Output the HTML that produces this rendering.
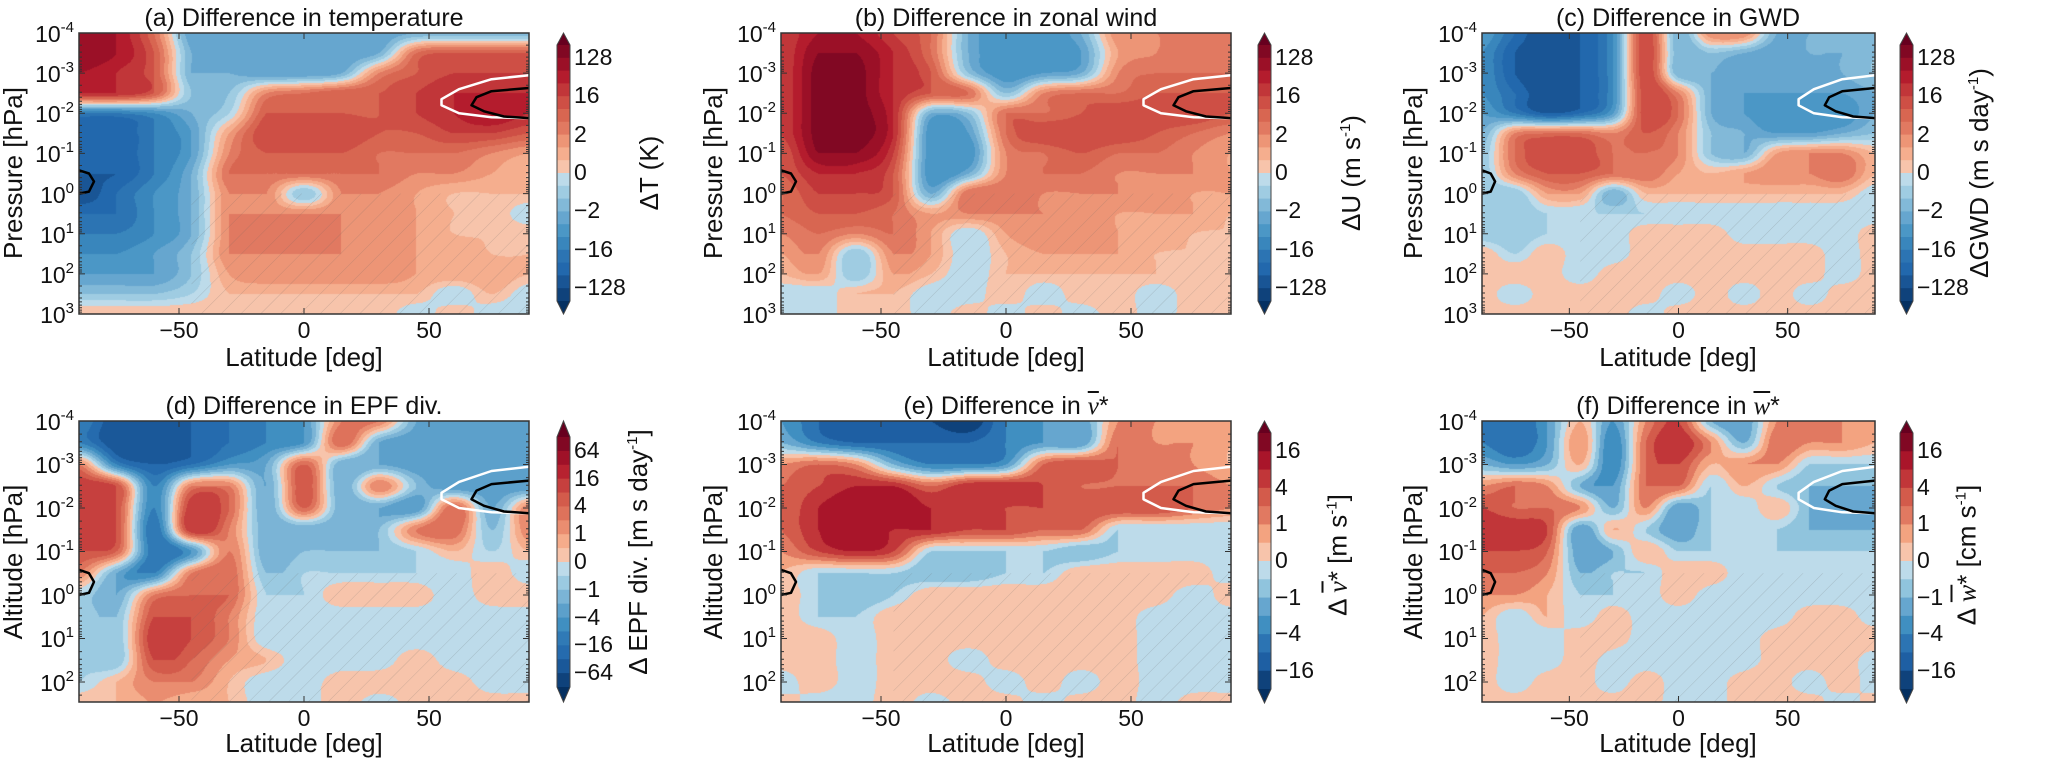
<!DOCTYPE html>
<html><head><meta charset="utf-8">
<style>
body{margin:0;background:#fff;}
#fig{position:relative;width:2065px;height:758px;overflow:hidden;background:#fff;font-family:"Liberation Sans","DejaVu Sans",sans-serif;color:#111;}
.t{position:absolute;white-space:nowrap;line-height:1;}
.title{font-size:25px;transform:translateX(-50%);}
.axl{font-size:26px;transform:translate(-50%,-50%);}
.vl{font-size:26px;transform:translate(-50%,-50%) rotate(-90deg);}
.tick{font-size:23px;}
sup{font-size:15px;vertical-align:0;position:relative;top:-10px;}
.m{font-family:"Liberation Serif","DejaVu Serif",serif;font-style:italic;text-decoration:overline;}
canvas,svg{position:absolute;}
</style></head>
<body>
<div id="fig">
  <div class="t title" style="left:304px;top:6px">(a) Difference in temperature</div>
  <div class="t title" style="left:1006px;top:6px">(b) Difference in zonal wind</div>
  <div class="t title" style="left:1678px;top:6px">(c) Difference in GWD</div>
  <div class="t title" style="left:304px;top:394px">(d) Difference in EPF div.</div>
  <div class="t title" style="left:1006px;top:394px">(e) Difference in <span class="m">v</span>*</div>
  <div class="t title" style="left:1678px;top:394px">(f) Difference in <span class="m">w</span>*</div>

  <div class="t axl" style="left:304px;top:357px">Latitude [deg]</div>
  <div class="t axl" style="left:1006px;top:357px">Latitude [deg]</div>
  <div class="t axl" style="left:1678px;top:357px">Latitude [deg]</div>
  <div class="t axl" style="left:304px;top:743px">Latitude [deg]</div>
  <div class="t axl" style="left:1006px;top:743px">Latitude [deg]</div>
  <div class="t axl" style="left:1678px;top:743px">Latitude [deg]</div>

  <div class="t vl" style="left:13px;top:173px">Pressure [hPa]</div>
  <div class="t vl" style="left:713px;top:173px">Pressure [hPa]</div>
  <div class="t vl" style="left:1413px;top:173px">Pressure [hPa]</div>
  <div class="t vl" style="left:13px;top:562px">Altitude [hPa]</div>
  <div class="t vl" style="left:713px;top:562px">Altitude [hPa]</div>
  <div class="t vl" style="left:1413px;top:562px">Altitude [hPa]</div>

  <div class="t vl" style="left:649px;top:173px">ΔT (K)</div>
  <div class="t vl" style="left:1351px;top:173px">ΔU (m s<sup>-1</sup>)</div>
  <div class="t vl" style="left:1979px;top:173px">ΔGWD (m s day<sup>-1</sup>)</div>
  <div class="t vl" style="left:638px;top:552px">Δ EPF div. [m s day<sup>-1</sup>]</div>
  <div class="t vl" style="left:1338px;top:555px">Δ <span class="m">v</span>* [m s<sup>-1</sup>]</div>
  <div class="t vl" style="left:1967px;top:555px">Δ <span class="m">w</span>* [cm s<sup>-1</sup>]</div>
</div>
<script>
// grid nodes
const latNodes=[-90,-75,-60,-45,-30,-15,0,15,30,45,60,75,90];
const logpNodes=[-4,-3.5,-3,-2.5,-2,-1.5,-1,-0.5,0,0.5,1,1.5,2,2.5,3];
const latTicks=[-50,0,50];
const latTickLabels=['\u221250','0','50'];
const cbTicksTop=['128','16','2','0','\u22122','\u221216','\u2212128'];
const cbTicksD=['64','16','4','1','0','\u22121','\u22124','\u221216','\u221264'];
const cbTicksEF=['16','4','1','0','\u22121','\u22124','\u221216'];
// values in colour-level units (signed contour level index)
const tempDiff=[
[9,8,4,-4,-4,-4,-4,-4,-4,-3,-3,-3,-3],
[9,8,5,-3,-4,-4,-4,-4,-3,4,5,5,5],
[8,7,5,-3,-3,-4,-4,-3,3,5,6,6,6],
[7,7,5,-2,-2,3,4,5,5,6,7,7,7],
[-6,-6,-5,-3,-1,5,5,5,5,6,7,8,7],
[-8,-8,-6,-4,2,6,6,6,5,5,6,6,5],
[-8,-8,-6,-4,3,5,5,5,4,4,4,3,2],
[-8,-8,-6,-3,4,4,4,4,4,3,3,2,1],
[-9,-7,-5,-3,3,3,-2,3,3,2,1,1,1],
[-7,-7,-5,-3,3,3,3,3,3,2,1,1,-1],
[-6,-6,-5,-3,3,4,4,3,3,2,1,1,1],
[-5,-5,-4,-2,3,3,3,3,3,2,2,1,1],
[-4,-4,-4,-2,2,3,3,3,3,2,2,2,1],
[-2,-2,-2,-1,1,1,1,1,1,1,-1,1,-1],
[1,1,1,1,1,1,1,1,1,-1,1,-1,-1]];
const windDiff=[
[6,8,8,6,4,-3,-5,-5,-3,3,3,3,3],
[6,9,9,7,4,-3,-5,-5,-4,2,3,4,4],
[6,9.5,9.5,7,5,-2,-5,-4,-3,3,4,4,4],
[6,9.5,9.5,7,5,4,-2,3,4,4,5,5,5],
[6,9.5,9.5,7,-3,-2,4,4,5,6,6,6,5],
[6,9.5,9.5,7,-5,-4,4,6,6,6,5,4,3],
[5,9,9,6,-5,-5,3,4,5,4,4,3,2],
[5,7,7,5,-5,-3,3,4,4,3,3,3,2],
[4,6,6,5,-3,4,4,3,3,3,3,2,2],
[4,5,5,4,2,3,3,3,3,2,2,2,1],
[3,4,3,4,2,-1,2,3,3,2,2,1,1],
[2,3,-2,3,2,-1,1,2,2,2,1,1,1],
[1,2,-2,2,1,-1,1,1,1,1,1,1,1],
[-1,-1,1,1,-1,-1,1,-1,1,1,-1,1,1],
[-1,-1,1,1,-1,1,-1,1,-1,1,-1,1,1]];
const gwdDiff=[
[-4,-7,-9,-8,-5,6,-3,3,3,-3,-3,-3,-2],
[-5,-8,-9,-8,-5,6,-3,-2,-3,-4,-3,-3,-2],
[-5,-8,-9,-8,-5,6,-3,-3,-4,-4,-4,-3,-2],
[-5,-7,-9,-8,-5,6,3,-3,-4,-4,-4,-4,-3],
[-4,-6,-8,-7,-4,6,4,-3,-4,-5,-5,-5,-3],
[-3,3,4,4,3,5,3,-2,-3,-4,-4,-3,-2],
[-2,4,6,6,4,4,3,-2,-3,2,3,3,1],
[-2,3,5,5,4,4,2,1,2,3,3,4,1],
[-2,-2,2,2,-3,1,1,1,1,1,1,1,-1],
[-2,-2,-1,-1,-1,-1,-1,-1,-1,-1,-1,-1,-1],
[-2,-2,-1,-1,-1,1,1,1,-1,-1,-1,-1,1],
[1,-1,1,-1,-1,1,1,1,1,1,1,-1,1],
[1,1,1,-1,1,1,1,1,1,1,1,-1,1],
[1,-1,1,1,1,1,-1,1,-1,1,-1,1,1],
[1,1,1,1,1,-1,1,1,1,1,1,1,1]];
const epfDiff=[
[-5,-8,-8,-7,-6,-5,-4,3,3,-3,-4,-4,-3],
[-5,-8,-8,-7,-6,-5,-4,4,-3,-4,-4,-4,-4],
[3,-5,-7,-6,-4,-3,4,-3,-3,-4,-4,-4,-3],
[6,5,-5,3,3,-3,5,-3,3,-2,-4,-4,-4],
[6,5,-5,6,4,-3,4,-3,-3,-4,4,-3,3],
[6,5,-6,6,3,-3,-3,-3,-2,3,4,-2,3],
[5,4,-6,-4,3,-3,-2,-2,-2,-1,1,-1,1],
[3,-3,-5,3,4,-2,-1,-1,-1,-1,-1,1,-1],
[-1,-3,3,4,4,-1,-1,1,1,1,-1,1,1],
[-1,-2,5,5,3,-1,-1,-1,-1,-1,-1,-1,-1],
[-1,-2,6,5,3,-1,-1,-1,-1,-1,-1,-1,-1],
[-1,-2,5,4,2,1,-1,-1,-1,1,-1,-1,-1],
[-1,1,3,3,1,-1,-1,1,1,1,1,-1,-1],
[1,1,2,1,1,-1,-1,1,-1,1,1,1,1],
[1,1,2,1,1,-1,-1,1,-1,1,1,1,1]];
const vstarDiff=[
[-3,-5,-6,-6,-6,-7,-4,-3,-3,2,2,2,1],
[-2,-4,-5,-5,-5,-5,-4,-3,-3,3,2,2,1],
[2,3,2,-2,-4,-4,-3,3,4,3,3,2,1],
[3,4,5,5,3,5,5,4,3,3,3,3,2],
[3,5,6,6,5,5,4,4,4,4,4,3,2],
[3,5,6,5,5,4,4,3,3,-1,-1,-1,-1],
[2,4,5,4,-1,-1,-1,-1,-2,-1,-1,-1,-1],
[1,-1,-1,-1,-2,-2,-1,-1,1,1,1,1,-1],
[1,-1,-2,-1,1,1,1,1,1,1,1,-1,1],
[1,-1,-1,1,1,1,1,1,1,1,-1,-1,-1],
[1,1,-1,1,1,1,1,1,1,1,-1,-1,-1],
[1,1,-1,1,1,-1,1,1,1,1,-1,-1,-1],
[-1,1,-1,1,1,1,-1,1,-1,1,-1,-1,-1],
[1,-1,-1,1,-1,1,1,-1,1,1,-1,1,1],
[1,-1,-1,1,-1,1,1,-1,1,1,-1,1,1]];
const wstarDiff=[
[-4,-5,-3,1,-3,2,4,-2,-3,2,3,2,1],
[-4,-5,-3,2,-4,3,5,2,-2,3,2,2,1],
[-2,-3,-2,1,-4,3,4,1,2,2,-1,-1,-1],
[2,3,2,-2,-3,3,3,-1,1,-1,-2,-2,-2],
[4,3,3,2,-2,2,-3,-1,-1,1,-2,-3,-3],
[5,5,4,-3,1,-1,-3,-1,-1,-1,-2,-2,-2],
[4,4,3,-3,-2,1,-1,-1,-1,-1,-1,-1,-1],
[3,3,2,-2,-1,-1,1,1,-1,-1,-1,-1,-1],
[2,2,1,-1,-1,-1,1,-1,-1,-1,-1,-1,-1],
[1,-1,1,-1,1,-1,-1,-1,-1,-1,1,1,-1],
[1,-1,-1,1,1,-1,-1,-1,-1,1,1,1,1],
[1,-1,-1,1,-1,-1,-1,-1,-1,1,1,1,-1],
[1,-1,1,1,-1,1,-1,-1,1,1,-1,1,-1],
[1,1,1,1,1,1,-1,-1,1,1,1,-1,1],
[1,1,1,1,1,1,-1,-1,1,1,1,-1,1]];
// overlay contours (lat, log10 p)
const whiteLat=[90,75,62,55,55,62,75,90];
const whiteLogp=[-2.95,-2.85,-2.6,-2.35,-2.2,-2.0,-1.9,-1.88];
const blackLat=[90,75,69,67,72,80,90];
const blackLogp=[-2.63,-2.55,-2.4,-2.2,-2.05,-1.92,-1.88];
const leftLat=[-90,-86,-84,-86,-90];
const leftLogp=[-0.58,-0.5,-0.3,-0.05,0.0];

const posAnch=['#f7c4ab','#f4a582','#e27c63','#d6604d','#c53e3d','#b2182b','#8c0b25','#67001f'];
const negAnch=['#bddbea','#92c5de','#6aa8d0','#4393c3','#2f78b5','#2166ac','#134a86','#053061'];
function hex(h){return [parseInt(h.substr(1,2),16),parseInt(h.substr(3,2),16),parseInt(h.substr(5,2),16)];}
function interp(anch,t){const f=t*(anch.length-1);const i=Math.min(anch.length-2,Math.floor(f));const r=f-i;const a=hex(anch[i]),b=hex(anch[i+1]);return [0,1,2].map(k=>Math.round(a[k]+(b[k]-a[k])*r));}
function palette(N){const p=[],n=[];for(let k=1;k<=N;k++){const t=(k-1)/(N-1)*0.9;p.push(interp(posAnch,t));n.push(interp(negAnch,t));}return {p,n,top:hex('#67001f'),bot:hex('#053061')};}

const fig=document.getElementById('fig');
const NS='http://www.w3.org/2000/svg';
const panels=[
 {k:'a',d:tempDiff,x:79,y:33,w:450,h:281,pmax:3,N:10,cbx:557,cbt:33,cbm0:45,cbm1:301,cbb:314,lab:cbTicksTop,step:3},
 {k:'b',d:windDiff,x:781,y:33,w:450,h:281,pmax:3,N:10,cbx:1258,cbt:33,cbm0:45,cbm1:301,cbb:314,lab:cbTicksTop,step:3},
 {k:'c',d:gwdDiff,x:1482,y:33,w:393,h:281,pmax:3,N:10,cbx:1900,cbt:33,cbm0:45,cbm1:301,cbb:314,lab:cbTicksTop,step:3},
 {k:'d',d:epfDiff,x:79,y:421,w:450,h:281,pmax:2.46,N:9,cbx:557,cbt:421,cbm0:437,cbm1:687,cbb:702,lab:cbTicksD,step:2},
 {k:'e',d:vstarDiff,x:781,y:421,w:450,h:281,pmax:2.46,N:7,cbx:1258,cbt:421,cbm0:433,cbm1:689,cbb:703,lab:cbTicksEF,step:2},
 {k:'f',d:wstarDiff,x:1482,y:421,w:393,h:281,pmax:2.46,N:7,cbx:1900,cbt:421,cbm0:433,cbm1:689,cbb:703,lab:cbTicksEF,step:2}
];
function cr(p0,p1,p2,p3,t){return 0.5*((2*p1)+(-p0+p2)*t+(2*p0-5*p1+4*p2-p3)*t*t+(-p0+3*p1-3*p2+p3)*t*t*t);}
function g(d,j,i){j=Math.max(0,Math.min(14,j));i=Math.max(0,Math.min(12,i));return d[j][i];}
function val(d,lat,lp){
 let fi=(lat+90)/15, fj=(lp+4)/0.5;
 fi=Math.max(0,Math.min(12-1e-6,fi)); fj=Math.max(0,Math.min(14-1e-6,fj));
 const i=Math.floor(fi),j=Math.floor(fj),a=fi-i,b=fj-j;
 const r=[];
 for(let jj=-1;jj<=2;jj++){r.push(cr(g(d,j+jj,i-1),g(d,j+jj,i),g(d,j+jj,i+1),g(d,j+jj,i+2),a));}
 let v=cr(r[0],r[1],r[2],r[3],b);
 const c=[d[j][i],d[j][i+1],d[j+1][i],d[j+1][i+1]];
 const lo=Math.min(...c),hi=Math.max(...c);
 return Math.max(lo,Math.min(hi,v));
}
function txt(cls,html,l,t,style){const e=document.createElement('div');e.className='t '+cls;e.innerHTML=html;e.style.left=l+'px';e.style.top=t+'px';if(style)e.style.cssText+=style;fig.appendChild(e);return e;}

panels.forEach(P=>{
 const pal=palette(P.N);
 const ppd=P.h/(P.pmax+4);
 const X=lat=>P.x+(lat+90)/180*P.w;
 const Y=lp=>P.y+(lp+4)*ppd;
 const cv=document.createElement('canvas');
 
 
 cv.width=P.w;cv.height=P.h;cv.style.left=P.x+'px';cv.style.top=P.y+'px';
 const ctx=cv.getContext('2d');const im=ctx.createImageData(P.w,P.h);
 for(let j=0;j<P.h;j++){const lp=-4+(j+0.5)/ppd;for(let i=0;i<P.w;i++){const lat=-90+180*(i+0.5)/P.w;const v=val(P.d,lat,lp);
  let c; if(v>0){const b=Math.ceil(v);c=b>P.N?pal.top:pal.p[b-1];}else{const b=Math.ceil(-v)||1;c=b>P.N?pal.bot:pal.n[b-1];}
  const o=(j*P.w+i)*4;im.data[o]=c[0];im.data[o+1]=c[1];im.data[o+2]=c[2];im.data[o+3]=255;}}
 ctx.putImageData(im,0,0);fig.appendChild(cv);
 const sv=document.createElementNS(NS,'svg');
 
 
 sv.setAttribute('width',2065);sv.setAttribute('height',758);sv.style.left='0px';sv.style.top='0px';
 const defs=document.createElementNS(NS,'defs');
 defs.innerHTML='<pattern id="h'+P.k+'" width="14" height="14" patternUnits="userSpaceOnUse" patternTransform="rotate(45)"><line x1="0" y1="0" x2="0" y2="14" stroke="#666" stroke-width="0.6" opacity="0.45"/></pattern><clipPath id="cp'+P.k+'"><rect x="'+P.x+'" y="'+P.y+'" width="'+P.w+'" height="'+P.h+'"/></clipPath>';
 sv.appendChild(defs);
 const hr=document.createElementNS(NS,'rect');
 
 
 const hy=Y(P.k==='a'||P.k==='b'||P.k==='c'?0:-0.5);
 hr.setAttribute('x',X(-45));hr.setAttribute('y',hy);hr.setAttribute('width',X(90)-X(-45));hr.setAttribute('height',P.y+P.h-hy);hr.setAttribute('fill','url(#h'+P.k+')');
 sv.appendChild(hr);
 function line(lats,lps,col,name){const p=document.createElementNS(NS,'path');
  
  
  let d='';lats.forEach((la,i)=>{d+=(i?'L':'M')+X(la).toFixed(1)+','+Y(lps[i]).toFixed(1);});
  p.setAttribute('d',d);p.setAttribute('fill','none');p.setAttribute('stroke',col);p.setAttribute('stroke-width','2.5');p.setAttribute('stroke-linejoin','round');p.setAttribute('clip-path','url(#cp'+P.k+')');sv.appendChild(p);}
 line(whiteLat,whiteLogp,'#fff','white-contour-'+P.k);
 line(blackLat,blackLogp,'#000','black-contour-'+P.k);
 line(leftLat,leftLogp,'#000','black-contour-left-'+P.k);
 const fr=document.createElementNS(NS,'rect');
 
 
 fr.setAttribute('x',P.x);fr.setAttribute('y',P.y);fr.setAttribute('width',P.w);fr.setAttribute('height',P.h);fr.setAttribute('fill','none');fr.setAttribute('stroke','#333');fr.setAttribute('stroke-width','1.5');sv.appendChild(fr);
 let tk='';
 latTicks.forEach(l=>{const x=X(l);tk+='M'+x+','+(P.y+P.h)+'v-6M'+x+','+P.y+'v6';});
 for(let e=-4;e<=Math.floor(P.pmax);e++){const y=Y(e);tk+='M'+P.x+','+y+'h6M'+(P.x+P.w)+','+y+'h-6';
  for(let m=2;m<10;m++){const ym=Y(e+Math.log10(m));if(ym<P.y+P.h)tk+='M'+P.x+','+ym+'h3M'+(P.x+P.w)+','+ym+'h-3';}}
 const tp=document.createElementNS(NS,'path');
 
 
 tp.setAttribute('d',tk);tp.setAttribute('stroke','#333');tp.setAttribute('stroke-width','1');sv.appendChild(tp);
 const nb=2*P.N,bh=(P.cbm1-P.cbm0)/nb,cw=13;
 for(let b=0;b<nb;b++){const r=document.createElementNS(NS,'rect');
  
  
  const c=b<P.N?pal.p[P.N-1-b]:pal.n[b-P.N];
  r.setAttribute('x',P.cbx);r.setAttribute('y',P.cbm0+b*bh);r.setAttribute('width',cw);r.setAttribute('height',bh+0.6);r.setAttribute('fill','rgb('+c.join(',')+')');sv.appendChild(r);}
 const t1=document.createElementNS(NS,'path');
 
 
 t1.setAttribute('d','M'+P.cbx+','+P.cbm0+'L'+(P.cbx+cw/2)+','+P.cbt+'L'+(P.cbx+cw)+','+P.cbm0+'Z');t1.setAttribute('fill','#67001f');sv.appendChild(t1);
 const t2=document.createElementNS(NS,'path');
 
 
 t2.setAttribute('d','M'+P.cbx+','+P.cbm1+'L'+(P.cbx+cw/2)+','+P.cbb+'L'+(P.cbx+cw)+','+P.cbm1+'Z');t2.setAttribute('fill','#053061');sv.appendChild(t2);
 const cf=document.createElementNS(NS,'path');
 
 
 cf.setAttribute('d','M'+P.cbx+','+P.cbm0+'L'+(P.cbx+cw/2)+','+P.cbt+'L'+(P.cbx+cw)+','+P.cbm0+'V'+P.cbm1+'L'+(P.cbx+cw/2)+','+P.cbb+'L'+P.cbx+','+P.cbm1+'Z');cf.setAttribute('fill','none');cf.setAttribute('stroke','#444');cf.setAttribute('stroke-width','1');sv.appendChild(cf);
 fig.appendChild(sv);
 const off=(nb-(P.lab.length-1)*P.step)/2;
 P.lab.forEach((s,i)=>{const y=P.cbm0+(off+i*P.step)*bh;
  const e=txt('tick',s,P.cbx+cw+4,y-12);
  
  });
 latTicks.forEach((l,i)=>{const e=txt('tick',latTickLabels[i],X(l),P.y+P.h+5,'transform:translateX(-50%)');
  
  });
 for(let ex=-4;ex<=Math.floor(P.pmax);ex++){const s=ex<0?'-'+(-ex):''+ex;
  const e=txt('tick','10<sup>'+s+'</sup>',P.x-5,Y(ex)-10,'transform:translateX(-100%)');
  
  }
});
</script>
</body></html>
